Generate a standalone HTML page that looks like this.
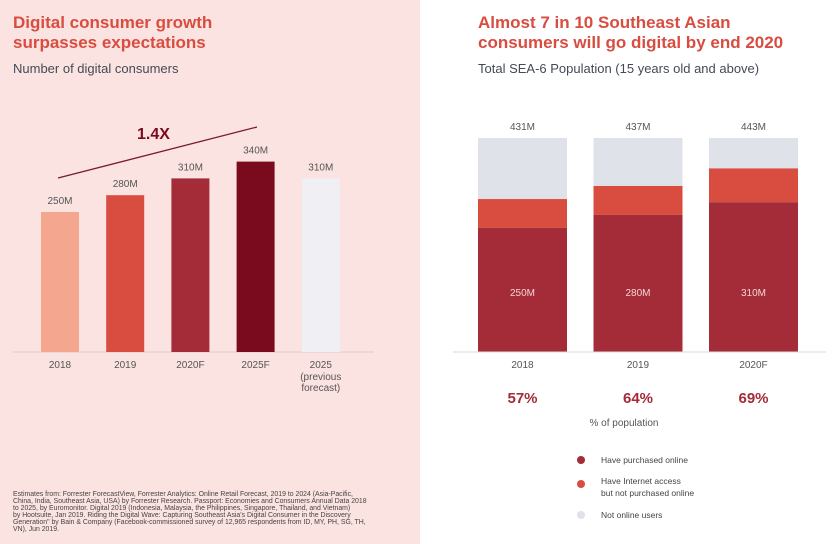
<!DOCTYPE html>
<html><head><meta charset="utf-8"><style>
body{margin:0;width:837px;height:544px;overflow:hidden;font-family:"Liberation Sans",sans-serif;background:#fff}
svg{display:block}
</style></head><body>
<svg width="837" height="544" id="svg" xmlns="http://www.w3.org/2000/svg">
<rect x="0" y="0" width="420" height="544" fill="#fbe3e1"/>
<text x="13" y="28" font-size="17" font-weight="bold" fill="#d94c40">Digital consumer growth</text>
<text x="13" y="48" font-size="17" font-weight="bold" fill="#d94c40">surpasses expectations</text>
<text x="13" y="73" font-size="13" fill="#444a55">Number of digital consumers</text>
<line x1="58" y1="178" x2="257" y2="127" stroke="#7a1a2a" stroke-width="1.3"/>
<text x="137" y="139" font-size="16" font-weight="bold" fill="#7a0a1e">1.4X</text>
<line x1="13" y1="352" x2="374" y2="352" stroke="#d8cfcf" stroke-width="1"/>
<g id="left"></g>
<text x="478" y="28" font-size="17" font-weight="bold" fill="#d94c40">Almost 7 in 10 Southeast Asian</text>
<text x="478" y="48" font-size="17" font-weight="bold" fill="#d94c40">consumers will go digital by end 2020</text>
<text x="478" y="73" font-size="13" fill="#444a55">Total SEA-6 Population (15 years old and above)</text>
<g id="right"></g>
<line x1="453" y1="352" x2="826" y2="352" stroke="#d8d8dc" stroke-width="1"/>
<text x="624" y="426" font-size="10" fill="#555" text-anchor="middle">% of population</text>
<g font-size="8.5" fill="#444">
<circle cx="581" cy="460" r="4" fill="#a32c38"/>
<text x="601" y="463">Have purchased online</text>
<circle cx="581" cy="484" r="4" fill="#d94c40"/>
<text x="601" y="484">Have Internet access</text>
<text x="601" y="496">but not purchased online</text>
<circle cx="581" cy="515" r="4" fill="#dfe2e8"/>
<text x="601" y="518">Not online users</text>
</g>
<g font-size="6.9" fill="#444">
<text x="13" y="496">Estimates from: Forrester ForecastView, Forrester Analytics: Online Retail Forecast, 2019 to 2024 (Asia-Pacific,</text>
<text x="13" y="503">China, India, Southeast Asia, USA) by Forrester Research. Passport: Economies and Consumers Annual Data 2018</text>
<text x="13" y="510">to 2025, by Euromonitor. Digital 2019 (Indonesia, Malaysia, the Philippines, Singapore, Thailand, and Vietnam)</text>
<text x="13" y="517">by Hootsuite, Jan 2019. Riding the Digital Wave: Capturing Southeast Asia's Digital Consumer in the Discovery</text>
<text x="13" y="524">Generation" by Bain &amp; Company (Facebook-commissioned survey of 12,965 respondents from ID, MY, PH, SG, TH,</text>
<text x="13" y="531">VN), Jun 2019.</text>
</g>
</svg>
<script>
const leftCats=["2018","2019","2020F","2025F","2025"];
const leftVals=[250,280,310,340,310];
const leftColors=["#f4a68f","#d94c40","#a32c38","#7a0a1e","#f0f0f4"];
const rightCats=["2018","2019","2020F"];
const rightTotals=[431,437,443];
const rightPurchased=[250,280,310];
const rightAccess=[58,59,70];
const rightPct=["57%","64%","69%"];

const NS="http://www.w3.org/2000/svg";
function mk(tag,attrs,parent,text){const e=document.createElementNS(NS,tag);for(const k in attrs)e.setAttribute(k,attrs[k]);if(text!==undefined)e.textContent=text;parent.appendChild(e);return e;}
const base=352;
const ly=v=>base-v*0.56;
const lx=i=>41+i*65.2;
const L=document.getElementById('left');
leftVals.forEach((v,i)=>{
  const r=mk('rect',{x:lx(i),y:ly(v),width:38,height:base-ly(v),fill:leftColors[i]},L);
  
  
  const t=mk('text',{x:lx(i)+19,y:ly(v)-8,'font-size':10,fill:'#555','text-anchor':'middle'},L,v+'M');
  
  
  const c=mk('text',{x:lx(i)+19,y:368,'font-size':10,fill:'#555','text-anchor':'middle'},L,leftCats[i]);
  
  
  if(i===4){
    const a=mk('text',{x:lx(i)+19,y:380,'font-size':10,fill:'#555','text-anchor':'middle'},L,'(previous');
    
    
    const b=mk('text',{x:lx(i)+19,y:391,'font-size':10,fill:'#555','text-anchor':'middle'},L,'forecast)');
    
    
  }
});
const H=214;
const rx=i=>478+i*115.5;
const R=document.getElementById('right');
rightCats.forEach((c,i)=>{
  const T=rightTotals[i];
  const hp=rightPurchased[i]/T*H, ha=rightAccess[i]/T*H;
  const g=mk('rect',{x:rx(i),y:base-H,width:89,height:H,fill:'#dfe2e8'},R);
  
  
  const a=mk('rect',{x:rx(i),y:base-hp-ha,width:89,height:ha,fill:'#d94c40'},R);
  
  
  const p=mk('rect',{x:rx(i),y:base-hp,width:89,height:hp,fill:'#a32c38'},R);
  
  
  const t=mk('text',{x:rx(i)+44.5,y:base-H-8,'font-size':10,fill:'#555','text-anchor':'middle'},R,T+'M');
  
  
  const v=mk('text',{x:rx(i)+44.5,y:296,'font-size':10,fill:'#f3d6d6','text-anchor':'middle'},R,rightPurchased[i]+'M');
  
  
  const x=mk('text',{x:rx(i)+44.5,y:368,'font-size':10,fill:'#555','text-anchor':'middle'},R,c);
  
  
  const q=mk('text',{x:rx(i)+44.5,y:403,'font-size':15,'font-weight':'bold',fill:'#a32c38','text-anchor':'middle'},R,rightPct[i]);
  
  
});
</script>
</body></html>
